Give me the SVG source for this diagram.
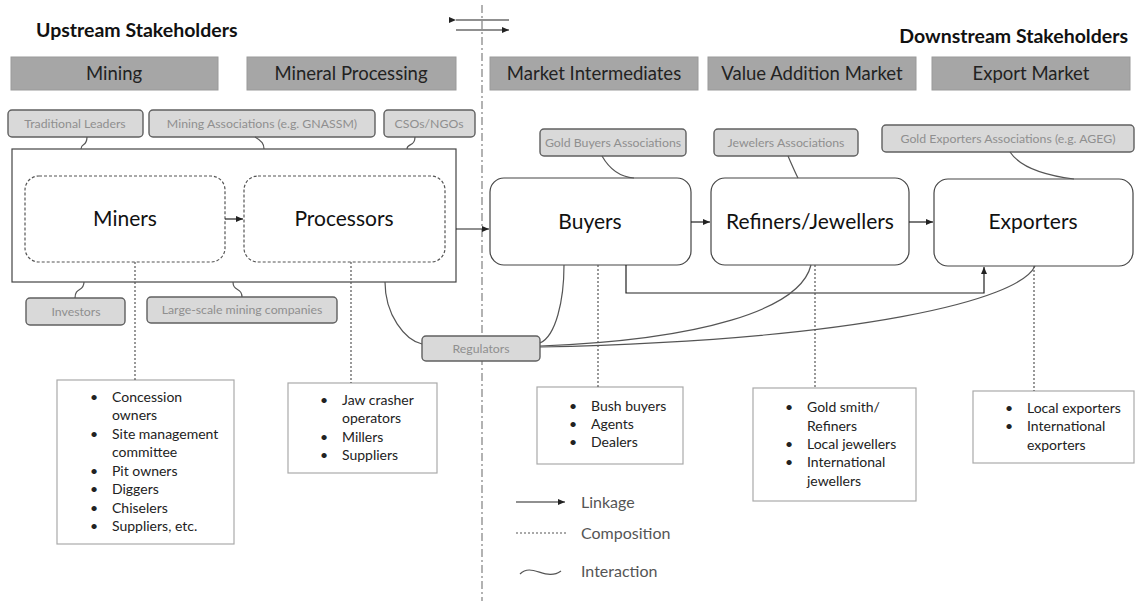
<svg xmlns="http://www.w3.org/2000/svg" width="1139" height="601" viewBox="0 0 1139 601">
<defs>
<marker id="arr" markerWidth="8" markerHeight="8" refX="7" refY="4" orient="auto" markerUnits="userSpaceOnUse">
<path d="M0,1 L7,4 L0,7 Z" fill="#222"/>
</marker>
<style>
.title{font-family:Lato,"Liberation Sans",sans-serif;font-weight:bold;font-size:19.5px;fill:#111}
.hdr{fill:#a6a6a6;stroke:#9a9a9a;stroke-width:1}
.hdrt{font-family:Lato,"Liberation Sans",sans-serif;font-size:18.5px;fill:#222;text-anchor:middle}
.assoc{fill:#d9d9d9;stroke:#606060;stroke-width:1.4}
.assoct{font-family:Lato,"Liberation Sans",sans-serif;font-size:12.3px;fill:#8f8f8f;text-anchor:middle}
.node{fill:#fff;stroke:#444;stroke-width:1.2}
.dnode{fill:#fff;stroke:#555;stroke-width:1.2;stroke-dasharray:3,2}
.nodet{font-family:Lato,"Liberation Sans",sans-serif;font-size:21px;fill:#111;text-anchor:middle}
.list{fill:#fff;stroke:#aaa;stroke-width:1.2}
.lt{font-family:Lato,"Liberation Sans",sans-serif;font-size:14px;fill:#222}
.link{fill:none;stroke:#222;stroke-width:1.2}
.comp{fill:none;stroke:#555;stroke-width:1.2;stroke-dasharray:2,2}
.inter{fill:none;stroke:#555;stroke-width:1.2}
.axis{fill:none;stroke:#999;stroke-width:1.5;stroke-dasharray:8,3,2,3}
.leg{font-family:Lato,"Liberation Sans",sans-serif;font-size:16px;fill:#555}
</style>
</defs>
<rect width="1139" height="601" fill="#fff"/>

<line class="axis" x1="482" y1="5" x2="482" y2="601"/>

<text class="title" x="36" y="37">Upstream Stakeholders</text>
<text class="title" x="1128" y="43" text-anchor="end">Downstream Stakeholders</text>

<g id="headers">
<rect class="hdr" x="11" y="57" width="207" height="33"/><text class="hdrt" x="114" y="80">Mining</text>
<rect class="hdr" x="247" y="57" width="209" height="33"/><text class="hdrt" x="351" y="80">Mineral Processing</text>
<rect class="hdr" x="490" y="57" width="208" height="33"/><text class="hdrt" x="594" y="80">Market Intermediates</text>
<rect class="hdr" x="708" y="57" width="208" height="33"/><text class="hdrt" x="812" y="80">Value Addition Market</text>
<rect class="hdr" x="932" y="57" width="198" height="33"/><text class="hdrt" x="1031" y="80">Export Market</text>
</g>

<g id="assoc-traditional"><rect class="assoc" x="8" y="110" width="135" height="27" rx="4"/><text class="assoct" x="75" y="128">Traditional Leaders</text></g>
<g id="assoc-mining"><rect class="assoc" x="149" y="110" width="226" height="27" rx="4"/><text class="assoct" x="262" y="128">Mining Associations  (e.g. GNASSM)</text></g>
<g id="assoc-csos"><rect class="assoc" x="384" y="110" width="91" height="27" rx="4"/><text class="assoct" x="429" y="128">CSOs/NGOs</text></g>
<g id="assoc-investors"><rect class="assoc" x="26" y="298" width="99" height="27" rx="4"/><text class="assoct" x="76" y="316">Investors</text></g>
<g id="assoc-lsmc"><rect class="assoc" x="147" y="297" width="190" height="26" rx="4"/><text class="assoct" x="242" y="314">Large-scale mining companies</text></g>
<g id="assoc-regulators"><rect class="assoc" x="422" y="336" width="118" height="25" rx="4"/><text class="assoct" x="481" y="353">Regulators</text></g>
<g id="assoc-buyers"><rect class="assoc" x="540" y="129" width="146" height="27" rx="4"/><text class="assoct" x="613" y="147">Gold Buyers Associations</text></g>
<g id="assoc-jewelers"><rect class="assoc" x="714" y="129" width="144" height="27" rx="4"/><text class="assoct" x="786" y="147">Jewelers Associations</text></g>
<g id="assoc-exporters"><rect class="assoc" x="882" y="125" width="252" height="27" rx="4"/><text class="assoct" x="1008" y="143">Gold Exporters Associations  (e.g. AGEG)</text></g>

<g id="upstream-group"><rect class="node" x="12" y="149" width="444" height="133" fill="none"/></g>
<g id="miners"><rect class="dnode" x="25" y="176" width="200" height="86" rx="14"/><text class="nodet" x="125" y="226">Miners</text></g>
<g id="processors"><rect class="dnode" x="244" y="176" width="201" height="86" rx="14"/><text class="nodet" x="344" y="226">Processors</text></g>
<g id="buyers"><rect class="node" x="490" y="178" width="201" height="87" rx="14"/><text class="nodet" x="590" y="229">Buyers</text></g>
<g id="refiners"><rect class="node" x="711" y="178" width="198" height="87" rx="14"/><text class="nodet" x="810" y="229">Refiners/Jewellers</text></g>
<g id="exporters"><rect class="node" x="934" y="179" width="199" height="87" rx="14"/><text class="nodet" x="1033" y="229">Exporters</text></g>

<g id="list-miners"><rect class="list" x="57" y="380" width="177" height="164"/>
<text class="lt"><tspan x="90" y="402">•</tspan><tspan x="112" y="402">Concession</tspan><tspan x="112" y="420">owners</tspan><tspan x="90" y="439">•</tspan><tspan x="112" y="439">Site management</tspan><tspan x="112" y="457">committee</tspan><tspan x="90" y="476">•</tspan><tspan x="112" y="476">Pit owners</tspan><tspan x="90" y="494">•</tspan><tspan x="112" y="494">Diggers</tspan><tspan x="90" y="513">•</tspan><tspan x="112" y="513">Chiselers</tspan><tspan x="90" y="531">•</tspan><tspan x="112" y="531">Suppliers, etc.</tspan></text>
</g>
<g id="list-processors"><rect class="list" x="288" y="383" width="149" height="90"/>
<text class="lt"><tspan x="320" y="405">•</tspan><tspan x="342" y="405">Jaw crasher</tspan><tspan x="342" y="423">operators</tspan><tspan x="320" y="442">•</tspan><tspan x="342" y="442">Millers</tspan><tspan x="320" y="460">•</tspan><tspan x="342" y="460">Suppliers</tspan></text>
</g>
<g id="list-buyers"><rect class="list" x="537" y="387" width="146" height="77"/>
<text class="lt"><tspan x="569" y="411">•</tspan><tspan x="591" y="411">Bush buyers</tspan><tspan x="569" y="429">•</tspan><tspan x="591" y="429">Agents</tspan><tspan x="569" y="447">•</tspan><tspan x="591" y="447">Dealers</tspan></text>
</g>
<g id="list-refiners"><rect class="list" x="753" y="388" width="163" height="113"/>
<text class="lt"><tspan x="785" y="412">•</tspan><tspan x="807" y="412">Gold smith/</tspan><tspan x="807" y="431">Refiners</tspan><tspan x="785" y="449">•</tspan><tspan x="807" y="449">Local jewellers</tspan><tspan x="785" y="467">•</tspan><tspan x="807" y="467">International</tspan><tspan x="807" y="486">jewellers</tspan></text>
</g>
<g id="list-exporters"><rect class="list" x="973" y="391" width="161" height="72"/>
<text class="lt"><tspan x="1005" y="413">•</tspan><tspan x="1027" y="413">Local exporters</tspan><tspan x="1005" y="431">•</tspan><tspan x="1027" y="431">International</tspan><tspan x="1027" y="450">exporters</tspan></text>
</g>

<g id="connectors">
<line class="link" x1="456" y1="20" x2="509" y2="20" marker-start="url(#arr)"/>
<line class="link" x1="456" y1="30" x2="509" y2="30" marker-end="url(#arr)"/>
<line class="link" x1="225" y1="219" x2="243" y2="219" marker-end="url(#arr)"/>
<line class="link" x1="456" y1="229" x2="489" y2="229" marker-end="url(#arr)"/>
<line class="link" x1="691" y1="222" x2="710" y2="222" marker-end="url(#arr)"/>
<line class="link" x1="909" y1="222" x2="933" y2="222" marker-end="url(#arr)"/>
<path class="link" d="M626,265 V293 H984 V267" marker-end="url(#arr)"/>
<path class="comp" d="M135,262 V380 M351,262 V383 M598,265 V387 M815,265 V388 M1034,266 V391"/>
<path class="inter" d="M87,137 C87,147 81,143 81,149"/>
<path class="inter" d="M255,137 C262,141 264,144 264,149"/>
<path class="inter" d="M415,137 C415,147 407,143 407,149"/>
<path class="inter" d="M75,298 C75,287 84,292 84,282"/>
<path class="inter" d="M242,297 C242,287 233,292 233,282"/>
<path class="inter" d="M385,282 C385,315 405,340 422,344"/>
<path class="inter" d="M564,265 C564,300 556,336 540,343"/>
<path class="inter" d="M811,265 C800,310 700,340 540,346"/>
<path class="inter" d="M1035,266 C1020,300 860,340 540,347"/>
<path class="inter" d="M602,156 C610,170 620,177 634,178"/>
<path class="inter" d="M788,156 C792,165 795,172 798,178"/>
<path class="inter" d="M1010,152 C1022,170 1050,176 1074,179"/>
</g>

<g id="legend">
<line class="link" x1="516" y1="502" x2="565" y2="502" marker-end="url(#arr)"/>
<text class="leg" x="581" y="508">Linkage</text>
<line class="comp" x1="516" y1="533" x2="566" y2="533"/>
<text class="leg" x="581" y="539">Composition</text>
<path class="inter" d="M520,574 C532,562 546,582 561,571"/>
<text class="leg" x="581" y="577">Interaction</text>
</g>
</svg>
